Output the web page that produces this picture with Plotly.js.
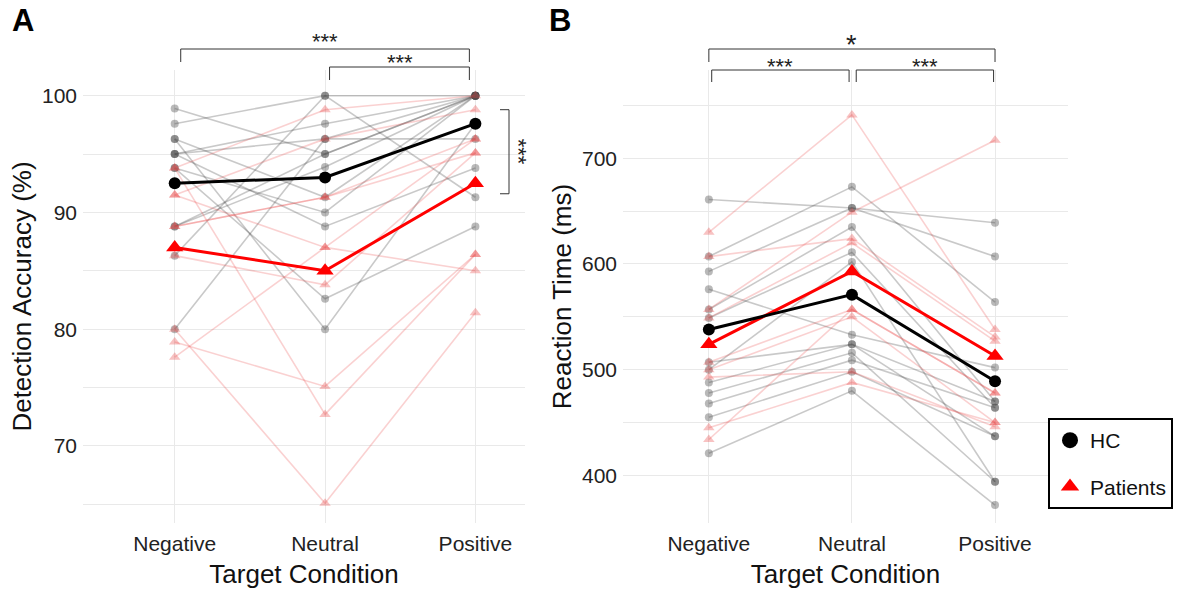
<!DOCTYPE html>
<html>
<head>
<meta charset="utf-8">
<script src="https://cdn.plot.ly/plotly-3.0.1.min.js"></script>
<style>html,body{margin:0;padding:0;background:#fff;}#chart{width:1177px;height:592px;}</style>
</head>
<body>
<div id="chart"></div>
<script>
// ---------------- DATA ----------------
const conditions = ['Negative', 'Neutral', 'Positive'];

// Panel A: Detection accuracy (%) per subject [Negative, Neutral, Positive]
const accHC = [
  [98.9, 95.0, 100],
  [97.6, 100, 91.3],
  [96.3, 91.3, 100],
  [95.0, 97.6, 100],
  [95.0, 88.8, 93.8],
  [95.0, 96.3, 100],
  [93.8, 90.0, 100],
  [93.8, 82.6, 88.8],
  [88.8, 93.9, 100],
  [86.3, 100, 100],
  [80.0, 96.3, 96.3],
  [96.3, 80.0, 97.6],
  [88.8, 95.0, 100]
];
const accPatients = [
  [93.8, 98.8, 100],
  [91.5, 96.3, 98.8],
  [88.8, 91.3, 96.3],
  [86.3, 83.8, 95.1],
  [80.0, 65.1, 81.4],
  [78.9, 75.1, 86.4],
  [77.6, 87.0, 85.0],
  [93.8, 72.7, 86.4],
  [91.5, 87.0, 96.3],
  [88.8, 91.3, 95.1]
];
const accMeanHC = [92.5, 93.0, 97.6];
const accMeanPatients = [87.0, 85.0, 92.5];

// Panel B: Reaction time (ms) per subject [Negative, Neutral, Positive]
const rtHC = [
  [661, 653, 639],
  [607, 673, 564],
  [593, 653, 607],
  [576, 533, 502],
  [557, 635, 470],
  [549, 611, 464],
  [507, 524, 437],
  [500, 602, 394],
  [488, 524, 470],
  [478, 516, 394],
  [468, 509, 464],
  [455, 498, 437],
  [421, 480, 372]
];
const rtPatients = [
  [630, 741, 538],
  [557, 649, 717],
  [607, 624, 531],
  [549, 620, 527],
  [507, 557, 478],
  [500, 550, 450],
  [493, 498, 446],
  [445, 488, 450],
  [434, 557, 478]
];
const rtMeanHC = [538, 571, 489];
const rtMeanPatients = [524, 593, 513];

const groupNames = ['HC', 'Patients'];

// ---------------- STYLE ----------------
const FONT = 'Arial, "Liberation Sans", sans-serif';
const grayLine = 'rgba(60,60,60,0.28)';
const grayMarker = 'rgba(70,70,70,0.38)';
const redLine = 'rgba(235,70,70,0.25)';
const redMarker = 'rgba(235,70,70,0.33)';

const traces = [];
function addSubjects(rows, xa, ya, lineColor, markerColor, symbol, size) {
  rows.forEach(r => {
    traces.push({
      type: 'scatter', mode: 'lines+markers', x: conditions, y: r,
      xaxis: xa, yaxis: ya, showlegend: false, hoverinfo: 'skip',
      line: {color: lineColor, width: 1.6},
      marker: {color: markerColor, symbol: symbol, size: size, line: {width: 0}}
    });
  });
}
addSubjects(accHC, 'x', 'y', grayLine, grayMarker, 'circle', 8);
addSubjects(accPatients, 'x', 'y', redLine, redMarker, 'triangle-up', 10);
addSubjects(rtHC, 'x2', 'y2', grayLine, grayMarker, 'circle', 8);
addSubjects(rtPatients, 'x2', 'y2', redLine, redMarker, 'triangle-up', 10);

function addMean(vals, xa, ya, color, symbol, size) {
  traces.push({
    type: 'scatter', mode: 'lines+markers', x: conditions, y: vals,
    xaxis: xa, yaxis: ya, showlegend: false,
    line: {color: color, width: 3},
    marker: {color: color, symbol: symbol, size: size}
  });
}
addMean(accMeanPatients, 'x', 'y', '#ff0000', 'triangle-up', 15);
addMean(accMeanHC, 'x', 'y', '#000000', 'circle', 12);
addMean(rtMeanPatients, 'x2', 'y2', '#ff0000', 'triangle-up', 15);
addMean(rtMeanHC, 'x2', 'y2', '#000000', 'circle', 12);

// legend-only entries (marker symbols only)
traces.push({type: 'scatter', mode: 'markers', x: [null], y: [null], name: groupNames[0],
  legendgroup: 'g1', marker: {color: '#000', symbol: 'circle', size: 16}});
traces.push({type: 'scatter', mode: 'markers', x: [null], y: [null], name: groupNames[1],
  legendgroup: 'g2', marker: {color: '#ff0000', symbol: 'triangle-up', size: 18}});

// ---------------- LAYOUT ----------------
const L = 83, W = 1177 - L, T = 70, B = 523, H = B - T;
const px = v => (v - L) / W;          // pixel x -> paper x
const py = v => (B - v) / H;          // pixel y -> paper y

const gridC = '#e9e9e9';
const tickF = {family: FONT, size: 21, color: '#222'};
const titleF = {family: FONT, size: 26, color: '#111'};

const shapes = [];
function bracket(xref, x0, x1, yTop, yLeg) {
  const s = {xref: xref, yref: 'paper', line: {color: '#333', width: 1}};
  shapes.push(Object.assign({}, s, {type: 'line', x0: x0, x1: x1, y0: py(yTop), y1: py(yTop)}));
  shapes.push(Object.assign({}, s, {type: 'line', x0: x0, x1: x0, y0: py(yTop), y1: py(yLeg)}));
  shapes.push(Object.assign({}, s, {type: 'line', x0: x1, x1: x1, y0: py(yTop), y1: py(yLeg)}));
}
// Panel A brackets
bracket('x', 0.04, 1.96, 49, 62);
bracket('x', 1.03, 1.96, 67, 80);
// Panel A vertical bracket (HC vs Patients)
shapes.push({type: 'line', xref: 'paper', yref: 'y', x0: px(509), x1: px(509), y0: 98.8, y1: 91.6, line: {color: '#333', width: 1}});
shapes.push({type: 'line', xref: 'paper', yref: 'y', x0: px(500), x1: px(509), y0: 98.8, y1: 98.8, line: {color: '#333', width: 1}});
shapes.push({type: 'line', xref: 'paper', yref: 'y', x0: px(500), x1: px(509), y0: 91.6, y1: 91.6, line: {color: '#333', width: 1}});
// Panel B brackets
bracket('x2', 0.0, 2.0, 49, 62);
bracket('x2', 0.02, 0.98, 70, 82);
bracket('x2', 1.03, 1.99, 70, 82);

const starF = {family: FONT, size: 22, color: '#222'};
const base = {showarrow: false, xanchor: 'center', yanchor: 'middle'};
const annotations = [
  Object.assign({}, base, {text: '<b>A</b>', xref: 'paper', yref: 'paper', x: px(23), y: py(21),
   font: {family: FONT, size: 31, color: '#000'}}),
  Object.assign({}, base, {text: '<b>B</b>', xref: 'paper', yref: 'paper', x: px(560), y: py(21),
   font: {family: FONT, size: 31, color: '#000'}}),
  Object.assign({}, base, {text: '***', xref: 'x', yref: 'paper', x: 1.0, y: py(37), yshift: -4, font: starF}),
  Object.assign({}, base, {text: '***', xref: 'x', yref: 'paper', x: 1.5, y: py(58), yshift: -4, font: starF}),
  Object.assign({}, base, {text: '***', xref: 'paper', yref: 'y', x: px(518), y: 95.2, textangle: 90, font: starF}),
  Object.assign({}, base, {text: '*', xref: 'x2', yref: 'paper', x: 1.0, y: py(40), yshift: -5,
   font: {family: FONT, size: 27, color: '#222'}}),
  Object.assign({}, base, {text: '***', xref: 'x2', yref: 'paper', x: 0.5, y: py(63), yshift: -4, font: starF}),
  Object.assign({}, base, {text: '***', xref: 'x2', yref: 'paper', x: 1.51, y: py(63), yshift: -4, font: starF})
];

const layout = {
  width: 1177, height: 592,
  margin: {l: L, r: 0, t: T, b: 592 - B},
  paper_bgcolor: '#fff', plot_bgcolor: '#fff',
  font: {family: FONT},
  showlegend: true,
  legend: {x: px(1048), xanchor: 'left', y: py(418), yanchor: 'top',
    bordercolor: '#000', borderwidth: 2, bgcolor: '#fff',
    font: {family: FONT, size: 21, color: '#111'}, tracegroupgap: 16},
  xaxis: {domain: [0, px(525)], type: 'category', range: [-0.61, 2.33],
    showgrid: true, gridcolor: gridC, zeroline: false, showline: false, ticks: '',
    tickfont: tickF, ticklabelstandoff: 6,
    title: {text: 'Target Condition', font: titleF, standoff: 10}, anchor: 'y'},
  yaxis: {domain: [0, 1], range: [63.4, 102.2], dtick: 10, tick0: 0,
    showgrid: true, gridcolor: gridC, zeroline: false, showline: false, ticks: '',
    minor: {dtick: 5, showgrid: true, gridcolor: gridC},
    tickfont: tickF, ticklabelstandoff: 5,
    title: {text: 'Detection Accuracy (%)', font: titleF, standoff: 2}, anchor: 'x'},
  xaxis2: {domain: [px(623), px(1068)], type: 'category', range: [-0.6, 2.51],
    showgrid: true, gridcolor: gridC, zeroline: false, showline: false, ticks: '',
    tickfont: tickF, ticklabelstandoff: 6,
    title: {text: 'Target Condition', font: titleF, standoff: 10}, anchor: 'y2'},
  yaxis2: {domain: [0, 1], range: [355, 783.5], dtick: 100, tick0: 0,
    showgrid: true, gridcolor: gridC, zeroline: false, showline: false, ticks: '',
    minor: {dtick: 50, showgrid: true, gridcolor: gridC},
    tickfont: tickF, ticklabelstandoff: 5,
    title: {text: 'Reaction Time (ms)', font: titleF, standoff: 2}, anchor: 'x2'},
  shapes: shapes,
  annotations: annotations
};

Plotly.newPlot('chart', traces, layout, {displayModeBar: false, staticPlot: true});
</script>
</body>
</html>
